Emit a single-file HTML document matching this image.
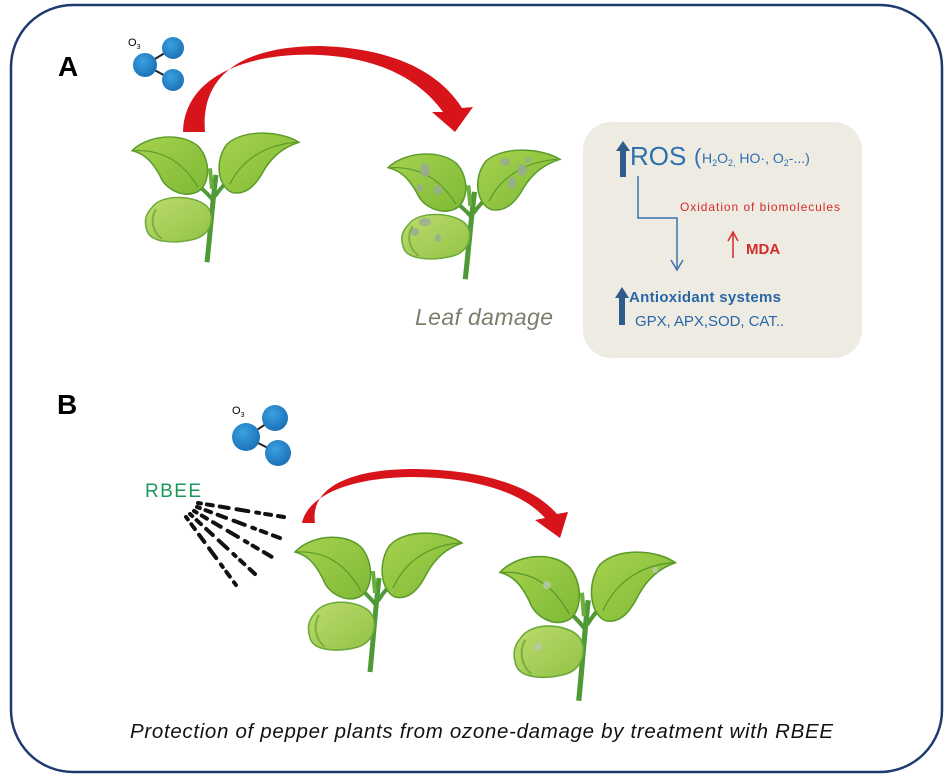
<!DOCTYPE html>
<html><head><meta charset="utf-8"><style>
html,body{margin:0;padding:0;background:#fff;width:950px;height:775px;overflow:hidden}
svg{display:block}
text{font-family:"Liberation Sans",sans-serif}
</style></head><body>
<svg width="950" height="775" viewBox="0 0 950 775" xmlns="http://www.w3.org/2000/svg">
<defs>
<linearGradient id="lf" x1="0" y1="0" x2="1" y2="1"><stop offset="0" stop-color="#a6d24e"/><stop offset="1" stop-color="#7fb935"/></linearGradient>
<linearGradient id="sd" x1="0" y1="0" x2="1" y2="1"><stop offset="0" stop-color="#bcdc6c"/><stop offset="1" stop-color="#93c247"/></linearGradient>
<radialGradient id="ball" cx="0.4" cy="0.35" r="0.7"><stop offset="0" stop-color="#3aa0e0"/><stop offset="1" stop-color="#1a6fb5"/></radialGradient>
<g id="plant">
<path d="M84,45 C80,80 78,110 75,139" fill="none" stroke="#4f9a36" stroke-width="5"/>
<path d="M81,72 C73,62 66,56 58,49" fill="none" stroke="#4f9a36" stroke-width="4"/>
<path d="M83,68 C89,58 95,52 102,46" fill="none" stroke="#4f9a36" stroke-width="4"/>
<path d="M80,60 L78,38" stroke="#6aae3e" stroke-width="4"/>
<path d="M0,19 C15,3 48,-2 66,14 C80,30 78,58 64,64 C50,70 33,60 28,46 C20,30 12,22 0,19 Z" fill="url(#lf)" stroke="#5a9a2a" stroke-width="1.5"/>
<path d="M2,19 C30,18 50,30 66,58" fill="none" stroke="#5a9a2a" stroke-width="1.2"/>
<path d="M167,10 C150,-2 112,-5 95,12 C82,30 86,58 100,64 C117,68 127,50 132,40 C142,22 155,14 167,10 Z" fill="url(#lf)" stroke="#5a9a2a" stroke-width="1.5"/>
<path d="M165,10 C135,12 110,28 98,55" fill="none" stroke="#5a9a2a" stroke-width="1.2"/>
<path d="M20,80 C30,65 62,67 74,78 C84,88 80,109 63,114 C45,119 19,119 15,105 C12,95 13,88 20,80 Z" fill="url(#sd)" stroke="#6aa83a" stroke-width="1.5"/>
<path d="M24,82 C18,92 20,106 30,114" fill="none" stroke="#7cb040" stroke-width="2"/>
</g>
</defs>

<rect x="11" y="5" width="931" height="767" rx="62" ry="62" fill="#fff" stroke="#1f3a6e" stroke-width="2.5"/>

<!-- A -->
<text x="58" y="76" font-size="28" font-weight="bold" fill="#000">A</text>
<text x="128" y="46" font-size="11" fill="#000">O<tspan font-size="7" dy="3">3</tspan></text>
<line x1="145" y1="65" x2="173" y2="48" stroke="#222" stroke-width="2"/>
<line x1="145" y1="65" x2="173" y2="80" stroke="#222" stroke-width="2"/>
<circle cx="173" cy="48" r="11" fill="url(#ball)"/>
<circle cx="145" cy="65" r="12" fill="url(#ball)"/>
<circle cx="173" cy="80" r="11" fill="url(#ball)"/>
<path d="M183,132 C185,70 260,52 320,55 C380,58 420,80 443,112 L432,112 L455,132 L473,107 L462,108 C438,70 390,48 320,46 C250,46 200,70 205,132 Z" fill="#d7141a"/>

<use href="#plant" transform="translate(132,133) scale(1,0.93)"/>
<use href="#plant" transform="translate(388,150) scale(1.03,0.93)"/>
<g fill="#9aab98" opacity="0.8">
<ellipse cx="425" cy="170" rx="5" ry="7"/><ellipse cx="438" cy="190" rx="4" ry="5"/><ellipse cx="420" cy="188" rx="3" ry="4"/>
<ellipse cx="505" cy="162" rx="5" ry="4"/><ellipse cx="522" cy="170" rx="5" ry="6"/><ellipse cx="512" cy="183" rx="4" ry="6"/><ellipse cx="528" cy="160" rx="3" ry="3"/>
<ellipse cx="425" cy="222" rx="6" ry="4"/><ellipse cx="415" cy="232" rx="4" ry="4"/><ellipse cx="438" cy="238" rx="3" ry="4"/>
</g>
<text x="415" y="325" font-size="23" font-style="italic" fill="#7d7d6c" textLength="138">Leaf damage</text>

<rect x="583" y="122" width="279" height="236" rx="28" fill="#eeece2"/>
<path d="M620,177 L620,151 L616,151 L623,141 L630,151 L626,151 L626,177 Z" fill="#2e5a8c"/>
<text x="630" y="165" font-size="26" fill="#2d6fae">ROS</text>
<text x="694" y="164" font-size="22" fill="#2d6fae">(</text>
<text x="702" y="163" font-size="14" fill="#2d6fae">H<tspan font-size="9" dy="3">2</tspan><tspan dy="-3">O</tspan><tspan font-size="9" dy="3">2,</tspan><tspan dy="-3"> HO·, O</tspan><tspan font-size="9" dy="3">2</tspan><tspan dy="-3">-...)</tspan></text>
<path d="M638,176 L638,218 L677,218 L677,268" fill="none" stroke="#3d70b0" stroke-width="1.5"/>
<path d="M671,260 L677,270 L683,260" fill="none" stroke="#3d70b0" stroke-width="1.5"/>
<text x="680" y="211" font-size="12" fill="#d42a2a" textLength="160">Oxidation of biomolecules</text>
<line x1="733" y1="258" x2="733" y2="234" stroke="#d42a2a" stroke-width="1.5"/>
<path d="M728,241 L733,232 L738,241" fill="none" stroke="#d42a2a" stroke-width="1.5"/>
<text x="746" y="254" font-size="15" font-weight="bold" fill="#d42a2a">MDA</text>
<path d="M619,325 L619,298 L615,298 L622,287 L629,298 L625,298 L625,325 Z" fill="#2e5a8c"/>
<text x="629" y="302" font-size="15" font-weight="bold" fill="#2866a8" textLength="152">Antioxidant systems</text>
<text x="635" y="326" font-size="15" fill="#2866a8" textLength="149">GPX,  APX,SOD, CAT..</text>

<!-- B -->
<text x="57" y="414" font-size="28" font-weight="bold" fill="#000">B</text>
<text x="232" y="414" font-size="11" fill="#000">O<tspan font-size="7" dy="3">3</tspan></text>
<line x1="246" y1="437" x2="275" y2="418" stroke="#222" stroke-width="2"/>
<line x1="246" y1="437" x2="278" y2="453" stroke="#222" stroke-width="2"/>
<circle cx="275" cy="418" r="13" fill="url(#ball)"/>
<circle cx="246" cy="437" r="14" fill="url(#ball)"/>
<circle cx="278" cy="453" r="13" fill="url(#ball)"/>
<text x="145" y="497" font-size="19" fill="#1a9a5a" textLength="56">RBEE</text>
<g stroke="#111" stroke-linecap="round" fill="none">
<path d="M198,503 L284,517" stroke-width="4" stroke-dasharray="3 6 6 7 9 8 12 8"/>
<path d="M197,507 L280,538" stroke-width="4" stroke-dasharray="3 6 6 7 9 8 12 8"/>
<path d="M194,511 L272,557" stroke-width="4" stroke-dasharray="3 6 6 7 9 8 12 8"/>
<path d="M190,514 L255,574" stroke-width="4" stroke-dasharray="3 6 6 7 9 8 12 8"/>
<path d="M186,517 L236,585" stroke-width="4" stroke-dasharray="3 6 6 7 9 8 12 8"/>
</g>
<path d="M302,523 C308,495 350,478 410,477 C470,477 520,490 545,518 L535,520 L560,538 L568,512 L557,514 C530,483 475,469 410,469 C345,470 310,490 315,523 Z" fill="#d7141a"/>

<use href="#plant" transform="translate(295,533)"/>
<use href="#plant" transform="translate(500,552) scale(1.05,1.07)"/>
<g fill="#b9c8b0" opacity="0.8">
<circle cx="547" cy="585" r="4"/><circle cx="655" cy="570" r="3"/><circle cx="538" cy="647" r="4"/>
</g>

<text x="130" y="738" font-size="20.5" font-style="italic" fill="#111" textLength="703">Protection of pepper plants from ozone-damage by treatment with RBEE</text>
</svg>
</body></html>
